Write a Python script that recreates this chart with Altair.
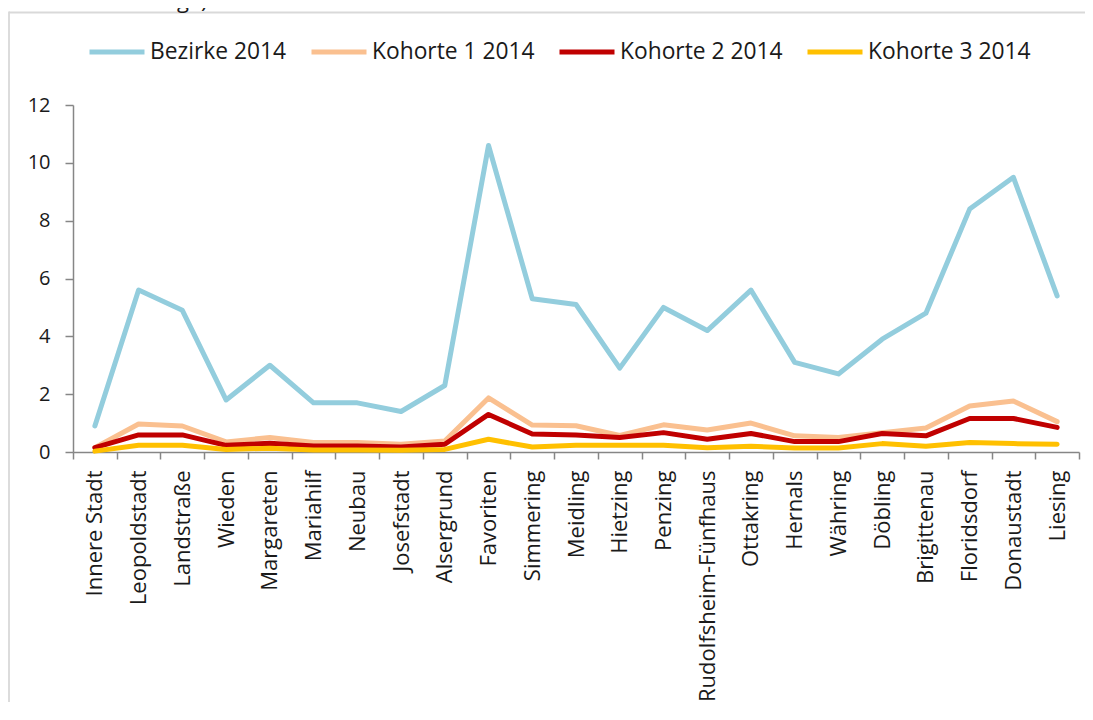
import altair as alt
import pandas as pd

districts = ["Innere Stadt", "Leopoldstadt", "Landstraße", "Wieden", "Margareten",
             "Mariahilf", "Neubau", "Josefstadt", "Alsergrund", "Favoriten",
             "Simmering", "Meidling", "Hietzing", "Penzing", "Rudolfsheim-Fünfhaus",
             "Ottakring", "Hernals", "Währing", "Döbling", "Brigittenau",
             "Floridsdorf", "Donaustadt", "Liesing"]

series_names = ["Bezirke 2014", "Kohorte 1 2014", "Kohorte 2 2014", "Kohorte 3 2014"]
series_colors = ["#93CDDD", "#FAC090", "#C00000", "#FFC000"]

bezirke = [0.9, 5.6, 4.9, 1.8, 3.0, 1.7, 1.7, 1.4, 2.3, 10.6, 5.3, 5.1, 2.9, 5.0,
           4.2, 5.6, 3.1, 2.7, 3.9, 4.8, 8.4, 9.5, 5.4]
kohorte1 = [0.15, 0.97, 0.9, 0.35, 0.5, 0.33, 0.33, 0.27, 0.38, 1.87, 0.93, 0.91,
            0.57, 0.94, 0.76, 1.0, 0.56, 0.5, 0.67, 0.83, 1.59, 1.76, 1.05]
kohorte2 = [0.15, 0.59, 0.59, 0.23, 0.3, 0.21, 0.21, 0.17, 0.27, 1.3, 0.62, 0.59,
            0.5, 0.67, 0.44, 0.64, 0.36, 0.36, 0.64, 0.56, 1.16, 1.16, 0.85]
kohorte3 = [0.03, 0.23, 0.23, 0.09, 0.13, 0.07, 0.07, 0.06, 0.09, 0.44, 0.17, 0.23,
            0.23, 0.23, 0.15, 0.2, 0.14, 0.14, 0.29, 0.2, 0.33, 0.29, 0.27]

y_ticks = [0, 2, 4, 6, 8, 10, 12]
title_text = "Stadtbevölkerung*)"

rows = []
for si, (name, vals) in enumerate(zip(series_names, [bezirke, kohorte1, kohorte2, kohorte3])):
    for d, v in zip(districts, vals):
        rows.append({"Bezirk": d, "Serie": name, "Wert": v, "order": si})
df = pd.DataFrame(rows)

FONT = "Open Sans"
W, H = 1006, 347
PAD_L, PAD_T, PAD_R, PAD_B = 65, 97, 6, 250

lines = alt.Chart(df).mark_line(strokeWidth=5, strokeCap="round", strokeJoin="round").encode(
    x=alt.X("Bezirk:N", sort=districts, bandPosition=0.5,
            scale=alt.Scale(type="band", paddingInner=0, paddingOuter=0),
            axis=alt.Axis(title=None, labelAngle=270, tickBand="extent", tickSize=7,
                          domainColor="#868686", tickColor="#868686", domainWidth=1.5,
                          tickWidth=1.5, labelPadding=11, labelFont=FONT, labelFontSize=22,
                          labelColor="#1a1a1a", labelAlign="right", labelBaseline="middle",
                          labelOverlap=False, labelLimit=0)),
    y=alt.Y("Wert:Q", scale=alt.Scale(domain=[0, 12], nice=False),
            axis=alt.Axis(title=None, values=y_ticks, grid=False, tickSize=8,
                          domainColor="#868686", tickColor="#868686", domainWidth=1.5,
                          tickWidth=1.5, labelPadding=15, labelFont=FONT, labelFontSize=20,
                          labelColor="#1a1a1a")),
    color=alt.Color("Serie:N", sort=series_names,
                    scale=alt.Scale(domain=series_names, range=series_colors),
                    legend=alt.Legend(title=None, orient="none", direction="horizontal",
                                      legendX=14, legendY=-83, symbolType="stroke",
                                      symbolSize=3025, symbolStrokeWidth=5, labelOffset=3,
                                      columnPadding=14, labelFont=FONT, labelFontSize=22.8,
                                      labelColor="#1a1a1a", labelLimit=0)),
    order=alt.Order("order:Q"),
    detail="Serie:N",
)

dummy = pd.DataFrame({"a": [0]})
border_top = alt.Chart(dummy).mark_rule(stroke="#D9D9D9", strokeWidth=1.8).encode(
    x=alt.value(-64), x2=alt.value(W + PAD_R), y=alt.value(-92.5))
border_left = alt.Chart(dummy).mark_rect(fill="#D9D9D9", strokeWidth=0).encode(
    x=alt.value(-64.9), x2=alt.value(-63.1), y=alt.value(-93.4), y2=alt.value(H + PAD_B))

title = alt.Chart(pd.DataFrame({"t": [title_text]})).mark_text(
    align="left", baseline="alphabetic", font=FONT, fontSize=22, color="#1a1a1a"
).encode(text="t:N", x=alt.value(-65), y=alt.value(-97))

chart = alt.layer(border_top, border_left, title, lines).properties(
    width=W, height=H,
    autosize=alt.AutoSizeParams(type="none"),
    padding={"left": PAD_L, "top": PAD_T, "right": PAD_R, "bottom": PAD_B},
).configure_view(stroke=None)

chart.save("out.html", embed_options={"renderer": "svg", "actions": False})
